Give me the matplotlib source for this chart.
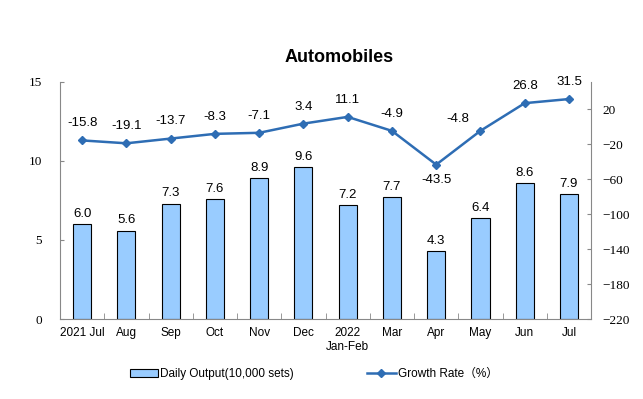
import matplotlib
matplotlib.use("Agg")
import matplotlib.pyplot as plt
import numpy as np

plt.rcParams['font.family'] = ['Liberation Sans', 'Noto Sans CJK SC', 'DejaVu Sans']

categories = ["2021 Jul", "Aug", "Sep", "Oct", "Nov", "Dec", "2022\nJan-Feb", "Mar", "Apr", "May", "Jun", "Jul"]
daily_output = [6.0, 5.6, 7.3, 7.6, 8.9, 9.6, 7.2, 7.7, 4.3, 6.4, 8.6, 7.9]
growth_rate = [-15.8, -19.1, -13.7, -8.3, -7.1, 3.4, 11.1, -4.9, -43.5, -4.8, 26.8, 31.5]
left_ticks = [0, 5, 10, 15]
right_ticks = [-220, -180, -140, -100, -60, -20, 20]

fig = plt.figure(figsize=(6.43, 3.99), dpi=100)
ax = fig.add_axes([0.0933, 0.2005, 0.826, 0.594])
ax2 = ax.twinx()

x = np.arange(len(categories))
bar_color = "#99CCFF"
line_color = "#2E6DB4"

ax.bar(x, daily_output, width=0.41, color=bar_color, edgecolor="black", linewidth=0.8, zorder=2,
       label="Daily Output(10,000 sets)")
for xi, v in zip(x, daily_output):
    ax.annotate(f"{v:.1f}", (xi, v), xytext=(0, 3), textcoords="offset points",
                ha="center", va="bottom", fontsize=9.5)

ax2.plot(x, growth_rate, color=line_color, marker="D", markersize=4, linewidth=1.8, zorder=3,
         label="Growth Rate（%）")
for i, (xi, v) in enumerate(zip(x, growth_rate)):
    if i == 8:
        ax2.annotate(f"{v:.1f}", (xi, v), xytext=(0, -7), textcoords="offset points",
                     ha="center", va="top", fontsize=9.5)
    elif i == 9:
        ax2.annotate(f"{v:.1f}", (xi, v), xytext=(-16, 4), textcoords="offset points",
                     ha="center", va="bottom", fontsize=9.5)
    else:
        ax2.annotate(f"{v:.1f}", (xi, v), xytext=(0, 8), textcoords="offset points",
                     ha="center", va="bottom", fontsize=9.5)

ax.set_xlim(-0.5, len(categories) - 0.5)
ax.set_ylim(0, 15)
ax.set_yticks(left_ticks)
ax2.set_ylim(-220, 51)
ax2.set_yticks(right_ticks)

ax.set_xticks(x)
ax.set_xticklabels(categories, fontsize=8.5)
ax.set_xticks(np.arange(-0.5, len(categories), 1), minor=True)
ax.tick_params(axis="x", which="major", length=0, pad=6)
ax.tick_params(axis="x", which="minor", length=4, color="#888888", direction="in")
ax.tick_params(axis="y", labelsize=9.5, direction="in", length=3, color="#888888", pad=13,
               labelfontfamily="Liberation Serif")
ax2.tick_params(axis="y", labelsize=9.5, direction="in", length=3, color="#888888", pad=8,
                labelfontfamily="Liberation Serif")

for a in (ax, ax2):
    a.spines["top"].set_visible(False)
    for s in ("left", "right", "bottom"):
        a.spines[s].set_color("#888888")
ax.spines["right"].set_visible(False)
ax2.spines["left"].set_visible(False)
ax2.spines["bottom"].set_visible(False)

fig.text(0.528, 0.855, "Automobiles", ha="center", va="center", fontsize=13, fontweight="bold")

h1, l1 = ax.get_legend_handles_labels()
h2, l2 = ax2.get_legend_handles_labels()
fig.legend(h1 + h2, l1 + l2, loc="center", bbox_to_anchor=(0.488, 0.063), ncol=2, frameon=False,
           fontsize=8.5, handlelength=2.4, columnspacing=6.2, handletextpad=0.2)

fig.savefig("out.png", dpi=100)
